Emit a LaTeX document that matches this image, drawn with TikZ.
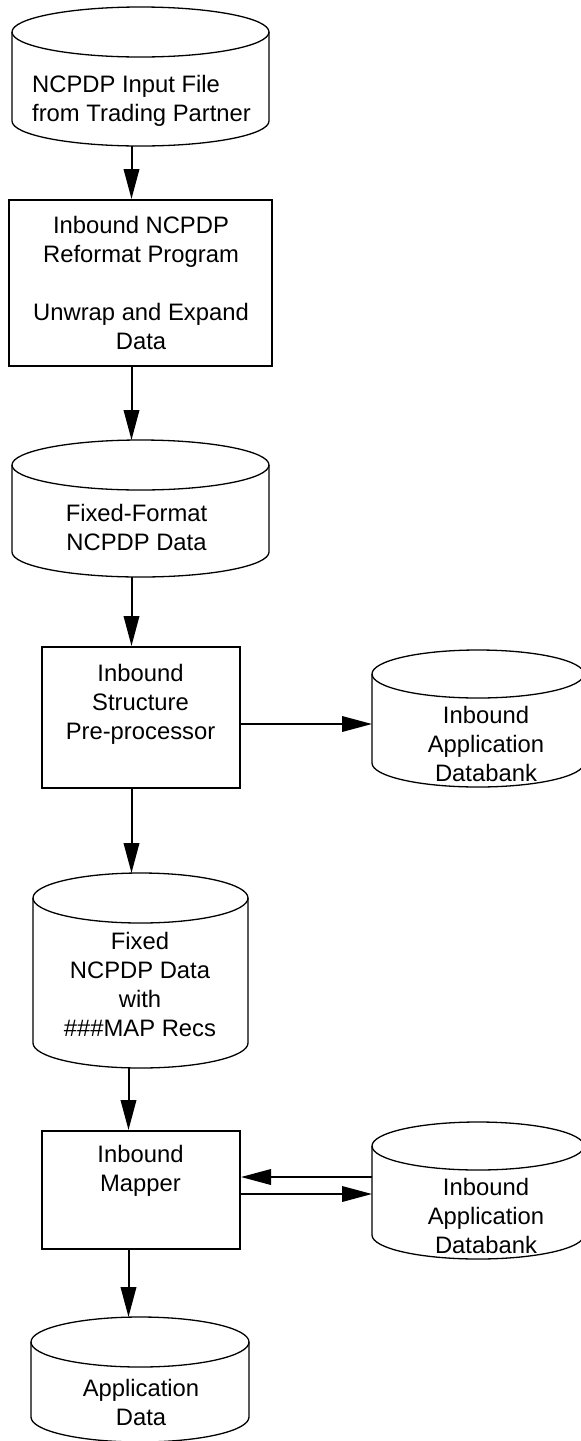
\documentclass[tikz,border=0pt]{standalone}
\usepackage{fontspec}
\setmainfont{Liberation Sans}
\usetikzlibrary{arrows.meta}
\newcommand\drawcyl[3]{%
  \draw[cylline] ([yshift=-#3pt]#1.north west) -- ([yshift=#3pt]#1.south west)
     arc[start angle=180,end angle=360,x radius=#2pt,y radius=#3pt]
     -- ([yshift=-#3pt]#1.north east);
  \draw[cylline] ([yshift=-#3pt]#1.north) ellipse[x radius=#2pt,y radius=#3pt];
}
\begin{document}
\begin{tikzpicture}[x=1pt,y=-1pt,
  box/.style={draw, line width=2pt, inner sep=0pt},
  cylbox/.style={inner sep=0pt, outer sep=0pt},
  txt/.style={inner sep=0pt, font=\fontsize{23.8pt}{29pt}\selectfont, align=center},
  arr/.style={line width=2pt, -{Triangle[length=30pt,width=15.5pt]}},
  cylline/.style={line width=1.3pt}]
\useasboundingbox (0,0) rectangle (581,1441);

% shapes
\node[cylbox, minimum width=257pt, minimum height=139pt] (c1) at (140.5,76.5) {};
\node[box, minimum width=263pt, minimum height=166pt] (b1) at (140.5,283) {};
\node[cylbox, minimum width=257pt, minimum height=137pt] (c2) at (140.5,508.5) {};
\node[box, minimum width=198pt, minimum height=141pt] (b2) at (141,717.5) {};
\node[cylbox, minimum width=212pt, minimum height=137pt] (r1) at (478,718.5) {};
\node[cylbox, minimum width=215pt, minimum height=195pt] (c3) at (140.5,970.5) {};
\node[box, minimum width=198pt, minimum height=118pt] (b3) at (141,1190) {};
\node[cylbox, minimum width=212pt, minimum height=137pt] (r2) at (478,1190.5) {};
\node[cylbox, minimum width=218pt, minimum height=125pt] (c4) at (140,1379.5) {};

\drawcyl{c1}{128.5}{25}
\drawcyl{c2}{128.5}{25}
\drawcyl{r1}{106}{24}
\drawcyl{c3}{107.5}{25}
\drawcyl{r2}{106}{24}
\drawcyl{c4}{109}{25}

% texts
\node[txt, align=left, anchor=west] (c1t) at (32,101) {\strut NCPDP Input File\\\strut from Trading Partner};
\node[txt] (b1t) at (141,285.5) {\strut Inbound NCPDP\\\strut Reformat Program\\\strut\\\strut Unwrap and Expand\\\strut Data};
\node[txt] (c2t) at (136.5,530.5) {\strut Fixed-Format\\\strut NCPDP Data};
\node[txt] (b2t) at (140.5,704.5) {\strut Inbound\\\strut Structure\\\strut Pre-processor};
\node[txt] (r1t) at (486,747) {\strut Inbound\\\strut Application\\\strut Databank};
\node[txt] (c3t) at (140,987) {\strut Fixed\\\strut NCPDP Data\\\strut with\\\strut \#\#\#MAP Recs};
\node[txt] (b3t) at (140.5,1171) {\strut Inbound\\\strut Mapper};
\node[txt] (r2t) at (486,1219) {\strut Inbound\\\strut Application\\\strut Databank};
\node[txt] (c4t) at (141,1405.5) {\strut Application\\\strut Data};

% connector columns / rows
\coordinate (colA) at (131.5,0);
\coordinate (colB) at (128.5,0);
\coordinate (rowA) at (0,724);
\coordinate (rowB) at (0,1177);
\coordinate (rowC) at (0,1194);

\draw[arr] (c1.south -| colA) -- (b1.north -| colA);
\draw[arr] (b1.south -| colA) -- (c2.north -| colA);
\draw[arr] (c2.south -| colA) -- (b2.north -| colA);
\draw[arr] (b2.south -| colA) -- (c3.north -| colA);
\draw[arr] (c3.south -| colB) -- (b3.north -| colB);
\draw[arr] (b3.south -| colB) -- (c4.north -| colB);
\draw[arr] (b2.east |- rowA) -- (r1.west |- rowA);
\draw[arr] (r2.west |- rowB) -- (b3.east |- rowB);
\draw[arr] (b3.east |- rowC) -- (r2.west |- rowC);
\end{tikzpicture}
\end{document}
